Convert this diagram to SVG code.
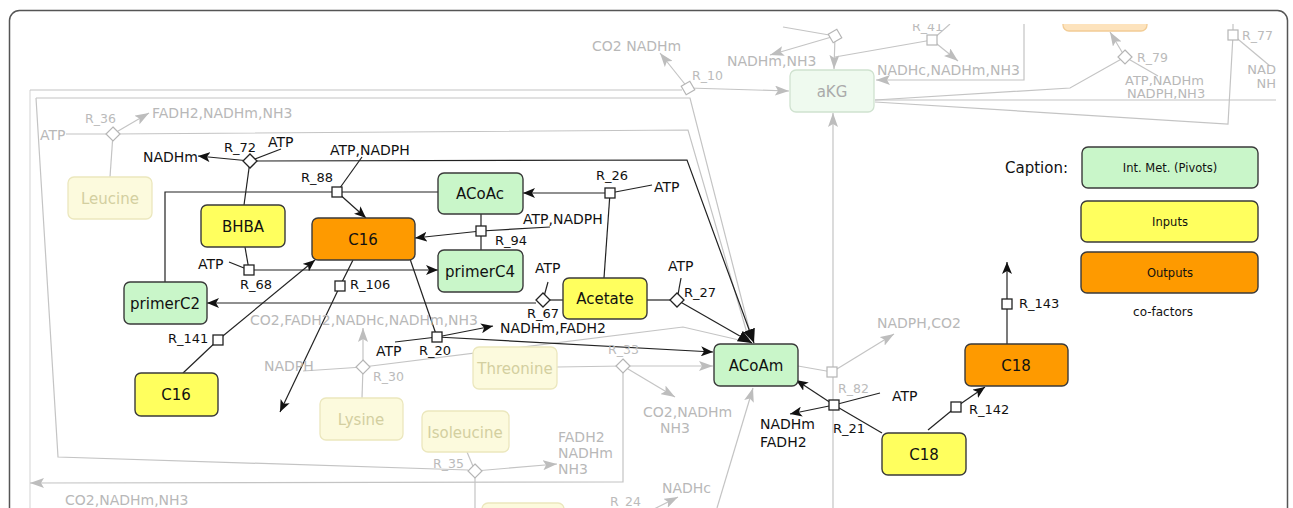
<svg xmlns="http://www.w3.org/2000/svg" width="1293" height="508" viewBox="0 0 1293 508">
<style>
text{font-family:"DejaVu Sans","Liberation Sans",sans-serif;}
.lb{stroke:#222;stroke-width:1.2;fill:none;}
.lg{stroke:#c4c4c4;stroke-width:1.2;fill:none;}
.lgl{stroke:#dadada;stroke-width:1.2;fill:none;}
.rb{fill:#fff;stroke:#222;stroke-width:1.3;}
.rg{fill:#fff;stroke:#b5b5b5;stroke-width:1.2;}
.n{stroke:#3a3a3a;stroke-width:1.4;}
.green{fill:#c9f6c9;}
.yellow{fill:#ffff5e;}
.orange{fill:#fe9a00;}
.fy{fill:#fcfadd;stroke:#ebe7bd;stroke-width:1.3;}
.fg{fill:#effaef;stroke:#cfe2cf;stroke-width:1.3;}
.nt{font-size:15px;fill:#111;text-anchor:middle;}
.ft{font-size:15px;fill:#d3cfa0;text-anchor:middle;}
.cb{font-size:14px;fill:#111;}
.cg{font-size:14px;fill:#b8b8b8;}
.rt{font-size:13px;fill:#111;}
.rtg{font-size:12.5px;fill:#bbb;}
.leg{font-size:11.5px;fill:#111;text-anchor:middle;}
</style>
<defs>
<marker id="ab" viewBox="0 0 12 10" refX="12" refY="5" markerWidth="12" markerHeight="10" orient="auto" markerUnits="userSpaceOnUse"><path d="M0,0 L12,5 L0,10 L3,5 z" fill="#111"/></marker>
<marker id="abb" viewBox="0 0 14 12" refX="14" refY="6" markerWidth="14" markerHeight="12" orient="auto" markerUnits="userSpaceOnUse"><path d="M0,0 L14,6 L0,12 z" fill="#111"/></marker>
<marker id="ag" viewBox="0 0 14 10" refX="14" refY="5" markerWidth="14" markerHeight="10" orient="auto" markerUnits="userSpaceOnUse"><path d="M0,0 L14,5 L0,10 L3,5 z" fill="#bdbdbd"/></marker>
<clipPath id="clip"><rect x="10" y="24" width="1274" height="484"/></clipPath>
</defs>
<rect width="1293" height="508" fill="#fff"/>
<rect x="9.5" y="10.5" width="1278" height="530" rx="10" fill="none" stroke="#555" stroke-width="1.5"/>
<g clip-path="url(#clip)">
<g id="connectors">
<polyline class="lgl" points="30,508 30,90"/>
<polyline class="lg" points="30,90 682,90"/>
<polyline class="lg" points="36,98 690,98 752,340"/>
<polyline class="lg" points="36,98 58,457 468,470"/>
<polyline class="lg" points="66,134 113,134"/>
<line class="lg" x1="113" y1="134" x2="149" y2="113" marker-end="url(#ag)"/>
<line class="lg" x1="113" y1="134" x2="110" y2="177"/>
<polyline class="lg" points="113,134 688,130 749,340"/>
<line class="lg" x1="688" y1="88" x2="789" y2="91" marker-end="url(#ag)"/>
<line class="lg" x1="688" y1="88" x2="660" y2="53" marker-end="url(#ag)"/>
<line class="lg" x1="467" y1="452" x2="475" y2="471"/>
<line class="lg" x1="475" y1="471" x2="557" y2="464" marker-end="url(#ag)"/>
<line class="lg" x1="475" y1="471" x2="475" y2="508"/>
<line class="lg" x1="557" y1="367" x2="623" y2="366"/>
<line class="lg" x1="623" y1="366" x2="713" y2="366" marker-end="url(#ag)"/>
<line class="lg" x1="623" y1="366" x2="675" y2="397" marker-end="url(#ag)"/>
<polyline class="lg" points="623,366 623,482 30,483" marker-end="url(#ag)"/>
<line class="lg" x1="362" y1="398" x2="363" y2="367"/>
<line class="lg" x1="363" y1="367" x2="363" y2="328" marker-end="url(#ag)"/>
<line class="lg" x1="303" y1="371" x2="363" y2="367"/>
<polyline class="lg" points="363,367 683,327 752,343"/>
<line class="lg" x1="717" y1="508" x2="753" y2="388" marker-end="url(#ag)"/>
<line class="lg" x1="652" y1="510" x2="678" y2="497" marker-end="url(#ag)"/>
<line class="lg" x1="833" y1="508" x2="833" y2="113" marker-end="url(#ag)"/>
<line class="lg" x1="798" y1="366" x2="832" y2="372"/>
<line class="lg" x1="832" y1="372" x2="894" y2="334" marker-end="url(#ag)"/>
<line class="lg" x1="783" y1="27" x2="835" y2="36"/>
<line class="lg" x1="835" y1="36" x2="770" y2="55" marker-end="url(#ag)"/>
<line class="lg" x1="835" y1="36" x2="834" y2="69" marker-end="url(#ag)"/>
<line class="lg" x1="835" y1="57" x2="932" y2="40"/>
<line class="lg" x1="932" y1="40" x2="950" y2="24"/>
<line class="lg" x1="932" y1="40" x2="958" y2="61" marker-end="url(#ag)"/>
<polyline class="lg" points="1024,24 1024,80 876,80" marker-end="url(#ag)"/>
<line class="lg" x1="1125" y1="57" x2="1110" y2="32" marker-end="url(#ag)"/>
<line class="lg" x1="1125" y1="57" x2="1158" y2="76"/>
<polyline class="lg" points="1125,57 1070,88 875,100"/>
<line class="lg" x1="875" y1="100" x2="1276" y2="100"/>
<polyline class="lg" points="875,102 1228,124 1233,35 1233,24"/>
<line class="lg" x1="1233" y1="35" x2="1270" y2="66"/>
<line class="lb" x1="244" y1="205" x2="250" y2="161"/>
<line class="lb" x1="250" y1="161" x2="198" y2="156" marker-end="url(#ab)"/>
<line class="lb" x1="281" y1="149" x2="250" y2="161"/>
<polyline class="lb" points="250,161 687,160 754,343" marker-end="url(#abb)"/>
<polyline class="lb" points="165,282 165,192 438,192"/>
<line class="lb" x1="362" y1="157" x2="337" y2="192"/>
<line class="lb" x1="337" y1="192" x2="366" y2="218" marker-end="url(#ab)"/>
<line class="lb" x1="610" y1="193" x2="523" y2="193" marker-end="url(#ab)"/>
<line class="lb" x1="652" y1="185" x2="610" y2="193"/>
<line class="lb" x1="604" y1="278" x2="610" y2="193"/>
<line class="lb" x1="481" y1="214" x2="481" y2="250"/>
<line class="lb" x1="550" y1="227" x2="481" y2="231"/>
<line class="lb" x1="481" y1="231" x2="415" y2="238" marker-end="url(#ab)"/>
<line class="lb" x1="245" y1="247" x2="249" y2="270"/>
<line class="lb" x1="229" y1="262" x2="249" y2="270"/>
<line class="lb" x1="249" y1="270" x2="438" y2="270" marker-end="url(#ab)"/>
<line class="lb" x1="353" y1="260" x2="340" y2="286"/>
<line class="lb" x1="340" y1="286" x2="280" y2="412" marker-end="url(#ab)"/>
<line class="lb" x1="183" y1="373" x2="218" y2="340"/>
<line class="lb" x1="218" y1="340" x2="315" y2="260" marker-end="url(#ab)"/>
<line class="lb" x1="563" y1="300" x2="543" y2="300"/>
<line class="lb" x1="548" y1="282" x2="543" y2="300"/>
<line class="lb" x1="536" y1="303" x2="207" y2="303" marker-end="url(#ab)"/>
<line class="lb" x1="647" y1="300" x2="677" y2="300"/>
<line class="lb" x1="681" y1="278" x2="677" y2="300"/>
<line class="lb" x1="677" y1="300" x2="752" y2="343" marker-end="url(#abb)"/>
<line class="lb" x1="410" y1="259" x2="437" y2="337"/>
<line class="lb" x1="395" y1="342" x2="437" y2="337"/>
<line class="lb" x1="437" y1="337" x2="493" y2="326" marker-end="url(#ab)"/>
<line class="lb" x1="437" y1="337" x2="713" y2="352" marker-end="url(#ab)"/>
<line class="lb" x1="882" y1="433" x2="834" y2="405"/>
<line class="lb" x1="880" y1="393" x2="834" y2="405"/>
<line class="lb" x1="834" y1="405" x2="796" y2="380" marker-end="url(#ab)"/>
<line class="lb" x1="834" y1="405" x2="790" y2="414" marker-end="url(#ab)"/>
<line class="lb" x1="928" y1="430" x2="956" y2="407"/>
<line class="lb" x1="956" y1="407" x2="985" y2="387" marker-end="url(#ab)"/>
<line class="lb" x1="1007" y1="344" x2="1007" y2="304"/>
<line class="lb" x1="1007" y1="304" x2="1007" y2="262" marker-end="url(#ab)"/>
</g>
<g id="reactions">
<polygon class="rg" points="113,127 120,134 113,141 106,134"/>
<polygon class="rg" points="688,81 695,88 688,95 681,88" transform="rotate(15 688 88)"/>
<polygon class="rg" points="475,464 482,471 475,478 468,471"/>
<polygon class="rg" points="623,359 630,366 623,373 616,366"/>
<polygon class="rg" points="363,360 370,367 363,374 356,367"/>
<rect class="rg" x="827" y="367" width="10" height="10"/>
<polygon class="rg" points="835,29 842,36 835,43 828,36" transform="rotate(15 835 36)"/>
<rect class="rg" x="927" y="35" width="10" height="10"/>
<polygon class="rg" points="1125,50 1132,57 1125,64 1118,57"/>
<rect class="rg" x="1228" y="30" width="10" height="10"/>
<polygon class="rb" points="250,154 257,161 250,168 243,161"/>
<rect class="rb" x="332" y="187" width="10" height="10"/>
<rect class="rb" x="605" y="188" width="10" height="10"/>
<rect class="rb" x="476" y="226" width="10" height="10"/>
<rect class="rb" x="244" y="265" width="10" height="10"/>
<rect class="rb" x="335" y="281" width="10" height="10"/>
<rect class="rb" x="213" y="335" width="10" height="10"/>
<polygon class="rb" points="543,293 550,300 543,307 536,300"/>
<polygon class="rb" points="677,293 684,300 677,307 670,300"/>
<rect class="rb" x="432" y="332" width="10" height="10"/>
<rect class="rb" x="829" y="400" width="10" height="10"/>
<rect class="rb" x="951" y="402" width="10" height="10"/>
<rect class="rb" x="1002" y="299" width="10" height="10"/>
</g>
<g id="node-akg"><rect class="fg" x="790" y="70" width="84" height="42" rx="6"/><text x="832" y="97" style="font-size:15px;fill:#aaa;text-anchor:middle">aKG</text></g>
<g id="node-top-orange"><rect x="1063" y="0" width="84" height="31" rx="6" fill="#fde3bd" stroke="#f2cc95" stroke-width="1.3"/></g>
<g id="node-bottom-faded"><rect class="fy" x="482" y="503" width="82" height="40" rx="6"/></g>
<g id="node-leucine"><rect class="fy" x="68" y="177" width="84" height="42" rx="6"/><text class="ft" x="110" y="204">Leucine</text></g>
<g id="node-lysine"><rect class="fy" x="320" y="398" width="83" height="42" rx="6"/><text class="ft" x="361" y="425">Lysine</text></g>
<g id="node-isoleucine"><rect class="fy" x="422" y="411" width="87" height="41" rx="6"/><text class="ft" x="465" y="438">Isoleucine</text></g>
<g id="node-threonine"><rect class="fy" x="473" y="347" width="84" height="42" rx="6"/><text class="ft" x="515" y="374">Threonine</text></g>
<g id="node-bhba"><rect class="n yellow" x="201" y="205" width="84" height="42" rx="6"/><text class="nt" x="243" y="232">BHBA</text></g>
<g id="node-c16-out"><rect class="n orange" x="312" y="218" width="103" height="42" rx="6"/><text class="nt" x="363" y="245">C16</text></g>
<g id="node-primerc2"><rect class="n green" x="124" y="282" width="83" height="42" rx="6"/><text class="nt" x="165" y="309">primerC2</text></g>
<g id="node-acoac"><rect class="n green" x="438" y="173" width="85" height="41" rx="6"/><text class="nt" x="480" y="199">ACoAc</text></g>
<g id="node-primerc4"><rect class="n green" x="438" y="250" width="85" height="42" rx="6"/><text class="nt" x="480" y="277">primerC4</text></g>
<g id="node-acetate"><rect class="n yellow" x="563" y="278" width="84" height="41" rx="6"/><text class="nt" x="605" y="304">Acetate</text></g>
<g id="node-c16-in"><rect class="n yellow" x="135" y="373" width="83" height="43" rx="6"/><text class="nt" x="176" y="400">C16</text></g>
<g id="node-acoam"><rect class="n green" x="714" y="344" width="84" height="42" rx="6"/><text class="nt" x="756" y="371">ACoAm</text></g>
<g id="node-c18-in"><rect class="n yellow" x="882" y="433" width="84" height="42" rx="6"/><text class="nt" x="924" y="460">C18</text></g>
<g id="node-c18-out"><rect class="n orange" x="965" y="344" width="103" height="42" rx="6"/><text class="nt" x="1016" y="371">C18</text></g>
<g id="labels">
<text class="cg" x="40" y="140">ATP</text>
<text class="rtg" x="85" y="123">R_36</text>
<text class="cg" x="152" y="118">FADH2,NADHm,NH3</text>
<text class="cg" x="592" y="51">CO2 NADHm</text>
<text class="rtg" x="692" y="80">R_10</text>
<text class="cg" x="727" y="66">NADHm,NH3</text>
<text class="rtg" x="912" y="31">R_41</text>
<text class="cg" x="877" y="75">NADHc,NADHm,NH3</text>
<text class="rtg" x="1137" y="62">R_79</text>
<text class="cg" x="1125" y="85" style="font-size:13px">ATP,NADHm</text>
<text class="cg" x="1127" y="98" style="font-size:13px">NADPH,NH3</text>
<text class="rtg" x="1242" y="40">R_77</text>
<text class="cg" x="1276" y="74" text-anchor="end" style="font-size:13px">NAD</text>
<text class="cg" x="1276" y="88" text-anchor="end" style="font-size:13px">NH</text>
<text class="cg" x="250" y="325">CO2,FADH2,NADHc,NADHm,NH3</text>
<text class="cg" x="264" y="371">NADPH</text>
<text class="rtg" x="373" y="381">R_30</text>
<text class="rtg" x="608" y="354">R_33</text>
<text class="cg" x="643" y="417">CO2,NADHm</text>
<text class="cg" x="660" y="433">NH3</text>
<text class="rtg" x="433" y="468">R_35</text>
<text class="cg" x="558" y="442">FADH2</text>
<text class="cg" x="558" y="458">NADHm</text>
<text class="cg" x="558" y="474">NH3</text>
<text class="cg" x="65" y="505">CO2,NADHm,NH3</text>
<text class="rtg" x="610" y="506">R_24</text>
<text class="cg" x="662" y="493">NADHc</text>
<text class="cg" x="877" y="328">NADPH,CO2</text>
<text class="rtg" x="838" y="393">R_82</text>
<text class="cb" x="143" y="162">NADHm</text>
<text class="rt" x="224" y="152">R_72</text>
<text class="cb" x="268" y="147">ATP</text>
<text class="cb" x="330" y="155">ATP,NADPH</text>
<text class="rt" x="301" y="182">R_88</text>
<text class="rt" x="596" y="180">R_26</text>
<text class="cb" x="654" y="192">ATP</text>
<text class="cb" x="523" y="224">ATP,NADPH</text>
<text class="rt" x="495" y="245">R_94</text>
<text class="cb" x="198" y="269">ATP</text>
<text class="rt" x="240" y="289">R_68</text>
<text class="rt" x="350" y="289">R_106</text>
<text class="cb" x="535" y="273">ATP</text>
<text class="rt" x="527" y="318">R_67</text>
<text class="cb" x="668" y="271">ATP</text>
<text class="rt" x="684" y="297">R_27</text>
<text class="cb" x="500" y="333">NADHm,FADH2</text>
<text class="cb" x="376" y="356">ATP</text>
<text class="rt" x="419" y="355">R_20</text>
<text class="rt" x="168" y="343">R_141</text>
<text class="rt" x="1019" y="308">R_143</text>
<text class="rt" x="969" y="414">R_142</text>
<text class="cb" x="892" y="401">ATP</text>
<text class="rt" x="833" y="433">R_21</text>
<text class="cb" x="760" y="429">NADHm</text>
<text class="cb" x="760" y="447">FADH2</text>
</g>
</g>
<g id="legend">
<text x="1005" y="173" style="font-size:15px;fill:#111">Caption:</text>
<rect class="n green" x="1082" y="147" width="176" height="41" rx="6"/>
<text class="leg" x="1170" y="172">Int. Met. (Pivots)</text>
<rect class="n yellow" x="1081" y="201" width="177" height="41" rx="6"/>
<text class="leg" x="1170" y="226">Inputs</text>
<rect class="n orange" x="1081" y="252" width="177" height="41" rx="6"/>
<text class="leg" x="1170" y="277">Outputs</text>
<text class="leg" x="1163" y="316" style="font-size:12px">co-factors</text>
</g>
</svg>
